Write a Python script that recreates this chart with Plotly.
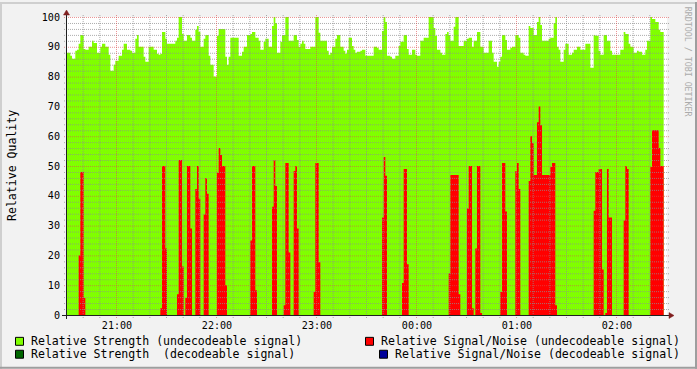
import plotly.graph_objects as go
from datetime import datetime, timedelta

# ---------------- data (minutes after 20:30, value) ----------------
START = datetime(2024, 1, 1, 20, 30)
SPAN_MIN = 360          # visible time window (20:30 -> 02:30)
DATA_END_MIN = 358      # last sample ends here

green_min = [0, 2, 3, 5, 6, 7, 8, 10, 11, 13, 15, 16, 18, 20, 21, 23, 25, 26, 28, 29,
             31, 33, 34, 36, 38, 39, 41, 42, 43, 46, 47, 49, 52, 54, 55, 56, 57, 59, 60, 65,
             66, 67, 69, 70, 72, 74, 75, 77, 78, 79, 80, 82, 83, 85, 86, 88, 90, 91, 95, 96,
             97, 98, 103, 105, 106, 108, 110, 111, 113, 115, 116, 118, 119, 121, 123, 124, 125, 126, 128, 129,
             131, 133, 136, 138, 139, 140, 141, 142, 143, 146, 149, 151, 152, 156, 157, 158, 159, 161, 162, 164,
             166, 167, 168, 169, 171, 172, 173, 174, 176, 177, 179, 184, 186, 187, 189, 190, 191, 192, 194, 195,
             197, 199, 200, 202, 204, 205, 207, 209, 210, 212, 214, 217, 220, 221, 222, 224, 225, 227, 228, 229,
             230, 232, 233, 235, 238, 240, 241, 243, 244, 246, 248, 250, 253, 255, 256, 258, 259, 260, 261, 263,
             264, 266, 267, 269, 271, 272, 274, 275, 277, 278, 280, 282, 283, 284, 285, 289, 290, 292, 293, 294,
             295, 296, 298, 299, 301, 303, 304, 306, 308, 311, 314, 316, 317, 319, 320, 322, 324, 326, 327, 332,
             334, 335, 337, 338, 340, 342, 343, 345, 347, 348, 350, 351, 353, 355, 356]
green_val = [88, 87, 86, 88.7, 89, 91, 94, 89.3, 89, 90, 92, 91.3, 88, 90, 91, 90, 87.3, 82, 84, 85.3,
             87, 89, 91, 89, 88.7, 88, 92.7, 94, 90, 86.7, 85, 90, 89, 87.7, 87.3, 87.7, 95, 92.7, 91, 92,
             93, 100, 94.3, 92, 94, 93, 92, 95.7, 97, 95, 90, 92.7, 94, 87, 84, 80, 93.7, 96, 86.7, 84,
             86.7, 93, 87, 88.3, 90, 94, 94.3, 95, 93, 92, 89, 91.7, 92.7, 90, 97, 100, 98, 88, 91.7, 94,
             100, 92, 94, 92.3, 90, 91, 92, 91, 89.3, 90, 100, 94.7, 92, 88.7, 87.3, 88, 90, 92.7, 94, 90,
             88.7, 87.7, 89, 93, 90.3, 89, 88, 88.3, 88.7, 89, 87, 90, 89.7, 89, 95.3, 100, 98.3, 87, 86.7, 86,
             87, 90.3, 91.7, 94, 89.3, 87.3, 89, 87.3, 87, 92, 93, 100, 96.3, 93.7, 89, 88, 87.3, 94.3, 95, 94,
             92, 96.7, 100, 90.3, 92, 92.7, 93, 90, 92, 95, 90, 88, 92, 88, 85, 83.3, 85, 86.7, 94, 92.3,
             89, 89.7, 90, 94, 93, 88, 87.3, 87, 97, 96.3, 94, 98.3, 100, 97.3, 92, 92.7, 93, 98, 100, 90,
             89, 85, 89, 91, 87.3, 88, 89, 90, 89, 91, 83, 94, 93.7, 88.7, 87.3, 94, 92, 88.7, 87.3, 89,
             95, 94.3, 91, 90, 88, 88.7, 88.3, 87.3, 89, 92, 100, 99.3, 98.3, 95.7, 95]

red_min = [0, 7, 8, 10, 11, 56, 57, 59, 60, 66, 67, 69, 70, 71, 72, 74, 75, 77, 78, 79,
           80, 82, 83, 84, 85, 90, 91, 92, 93, 95, 96, 110, 111, 113, 114, 123, 124, 125, 126, 130,
           131, 133, 134, 136, 137, 138, 139, 148, 149, 151, 152, 189, 190, 191, 192, 201, 202, 204, 205, 229,
           230, 235, 236, 240, 241, 243, 244, 245, 246, 248, 249, 260, 261, 263, 264, 269, 270, 271, 272, 277,
           278, 279, 280, 282, 283, 284, 285, 290, 291, 293, 294, 316, 317, 319, 321, 322, 323, 324, 325, 327,
           334, 335, 336, 337, 350, 351, 355, 356]
red_val = [0, 20, 48, 5.7, 0, 2.3, 50, 22.3, 0, 7, 52, 16.3, 0, 5.7, 50, 29, 0, 42.3, 50, 39,
           0, 33.7, 46, 40.7, 0, 47.7, 56, 53.7, 50, 10, 0, 25, 50, 8.3, 0, 36.3, 52, 43.3, 0, 3.3,
           51, 21, 0, 48.3, 50, 29, 0, 7.7, 51, 17.7, 0, 32.7, 53, 46.7, 0, 10.7, 49, 17, 0, 14,
           47, 7, 0, 35.7, 50, 2.3, 0, 22.3, 50, 0.7, 0, 7.7, 51, 34.7, 0, 48.3, 51, 42.3, 0, 45,
           60, 57.7, 47, 64.7, 70, 63.7, 47, 49.7, 51, 3.3, 0, 35, 48, 49, 15.3, 0, 0.7, 49, 32.7, 0,
           31.7, 50, 49, 0, 49.7, 62, 56, 50]

hour_ticks = ["21:00", "22:00", "23:00", "00:00", "01:00", "02:00"]
y_ticks = [0, 10, 20, 30, 40, 50, 60, 70, 80, 90, 100]

legend_items = [
    ("Relative Strength (undecodeable signal)", "#80FF00"),
    ("Relative Strength  (decodeable signal)", "#006600"),
    ("Relative Signal/Noise (undecodeable signal)", "#FF0000"),
    ("Relative Signal/Noise (decodeable signal)", "#000099"),
]

# ---------------- geometry ----------------
FIG_W, FIG_H = 697, 369
L, T = 67, 15
PW, PH = 600, 300
R, B = FIG_W - L - PW, FIG_H - T - PH


def fx(px):
    return (px - L) / PW


def fy(py):
    return (T + PH - py) / PH


def tm(m):
    return START + timedelta(minutes=m)


def step_xy(mins, vals):
    xs = [tm(m) for m in mins] + [tm(DATA_END_MIN)]
    ys = list(vals) + [vals[-1]]
    return xs, ys


fig = go.Figure()
gx, gy = step_xy(green_min, green_val)
fig.add_trace(go.Scatter(x=gx, y=gy, mode="lines", line=dict(width=0, shape="hv"),
                         fill="tozeroy", fillcolor="#80FF00", hoverinfo="skip"))
rx, ry = step_xy(red_min, red_val)
fig.add_trace(go.Scatter(x=rx, y=ry, mode="lines", line=dict(width=0, shape="hv"),
                         fill="tozeroy", fillcolor="#FF0000", hoverinfo="skip"))

shapes = []
GRID = "rgba(143,143,143,0.75)"
MGRID = "rgba(222,79,79,0.6)"
DASH = "1px,1px"
PX_PER_MIN = PW / SPAN_MIN
PX_PER_UNIT = PH / 100

# horizontal grid (every 2 units, major every 10) - crisp half-pixel placement
for v in range(2, 101, 2):
    col = MGRID if v % 10 == 0 else GRID
    yy = fy(T + PH - v * PX_PER_UNIT + 0.5)
    shapes.append(dict(type="line", xref="paper", yref="paper", x0=fx(L - 3), x1=fx(L + PW + 2),
                       y0=yy, y1=yy, line=dict(color=col, width=1, dash=DASH), layer="above"))
# vertical grid (every 10 minutes, major every hour)
for m in range(10, SPAN_MIN, 10):
    col = MGRID if (m + 30) % 60 == 0 else GRID
    xx = fx(L + m * PX_PER_MIN - 0.5)
    shapes.append(dict(type="line", xref="paper", yref="paper", x0=xx, x1=xx,
                       y0=fy(T + PH + 3), y1=fy(T - 2), line=dict(color=col, width=1, dash=DASH),
                       layer="above"))

AXIS = "#1f1f1f"
ARROW = "rgb(128,31,31)"
ax_y = fy(T + PH + 0.5)
ax_x = fx(L - 0.5)
shapes.append(dict(type="line", xref="paper", yref="paper", x0=fx(L - 5), x1=fx(L + PW + 2),
                   y0=ax_y, y1=ax_y, line=dict(color=AXIS, width=1), layer="above"))
shapes.append(dict(type="line", xref="paper", yref="paper", x0=ax_x, x1=ax_x,
                   y0=fy(T + PH + 4), y1=fy(T - 2), line=dict(color=AXIS, width=1), layer="above"))
# arrows
shapes.append(dict(type="path", xref="paper", yref="paper",
                   path=f"M {fx(L-3.5)} {fy(T-2)} L {fx(L+2.5)} {fy(T-2)} L {fx(L-0.5)} {fy(T-7)} Z",
                   fillcolor=ARROW, line=dict(color=ARROW, width=0.5), layer="above"))
shapes.append(dict(type="path", xref="paper", yref="paper",
                   path=f"M {fx(L+PW+2)} {fy(T+PH-2.5)} L {fx(L+PW+2)} {fy(T+PH+3.5)} L {fx(L+PW+7)} {fy(T+PH+0.5)} Z",
                   fillcolor=ARROW, line=dict(color=ARROW, width=0.5), layer="above"))

# 3D frame
shapes += [
    dict(type="rect", xref="paper", yref="paper", x0=fx(0), x1=fx(2), y0=fy(FIG_H), y1=fy(0),
         fillcolor="#CFCFCF", line=dict(width=0)),
    dict(type="rect", xref="paper", yref="paper", x0=fx(0), x1=fx(FIG_W), y0=fy(2), y1=fy(0),
         fillcolor="#CFCFCF", line=dict(width=0)),
    dict(type="rect", xref="paper", yref="paper", x0=fx(FIG_W - 2), x1=fx(FIG_W), y0=fy(FIG_H), y1=fy(0),
         fillcolor="#9E9E9E", line=dict(width=0)),
    dict(type="rect", xref="paper", yref="paper", x0=fx(0), x1=fx(FIG_W), y0=fy(FIG_H), y1=fy(FIG_H - 2),
         fillcolor="#9E9E9E", line=dict(width=0)),
]

annotations = []
LEG_FONT = dict(family="DejaVu Sans Mono", size=11.56, color="black")
legend_pos = [(15, 337, 30), (15, 350, 30), (365, 337, 380), (379, 350, 394)]
for (text, col), (bx, by, tx) in zip(legend_items, legend_pos):
    shapes.append(dict(type="rect", xref="paper", yref="paper", x0=fx(bx + 0.5), x1=fx(bx + 8.5),
                       y0=fy(by + 8.5), y1=fy(by + 0.5), fillcolor=col,
                       line=dict(color="black", width=1)))
    annotations.append(dict(xref="paper", yref="paper", x=fx(tx), y=fy(by + 4.5), text=text,
                            showarrow=False, xanchor="left", yanchor="middle", font=LEG_FONT,
                            borderpad=0))

annotations.append(dict(xref="paper", yref="paper", x=fx(12), y=fy(T + PH / 2), text="Relative Quality",
                        showarrow=False, textangle=-90, xanchor="center", yanchor="middle",
                        font=LEG_FONT, borderpad=0))
annotations.append(dict(xref="paper", yref="paper", x=fx(688), y=fy(60), text="RRDTOOL / TOBI OETIKER",
                        showarrow=False, textangle=90, xanchor="center", yanchor="middle",
                        font=dict(family="DejaVu Sans Mono", size=8.3, color="#ababab"), borderpad=0))

hour_vals = [tm(30 + 60 * i) for i in range(len(hour_ticks))]

fig.update_layout(
    width=FIG_W, height=FIG_H,
    margin=dict(l=L, r=R, t=T, b=B, pad=0),
    paper_bgcolor="#F2F2F2", plot_bgcolor="#FFFFFF",
    showlegend=False,
    font=dict(family="DejaVu Sans Mono", color="black"),
    xaxis=dict(type="date", range=[tm(0), tm(SPAN_MIN)], showgrid=False, zeroline=False,
               showline=False, ticks="", tickvals=hour_vals, ticktext=hour_ticks,
               tickfont=dict(family="DejaVu Sans Mono", size=10.1, color="black"),
               ticklabelstandoff=3, fixedrange=True),
    yaxis=dict(range=[0, 100], showgrid=False, zeroline=False, showline=False, ticks="",
               tickvals=y_ticks, ticktext=[str(v) for v in y_ticks],
               tickfont=dict(family="DejaVu Sans Mono", size=10.1, color="black"),
               ticklabelstandoff=6, fixedrange=True),
    shapes=shapes,
    annotations=annotations,
)

fig.write_html("out.html")
